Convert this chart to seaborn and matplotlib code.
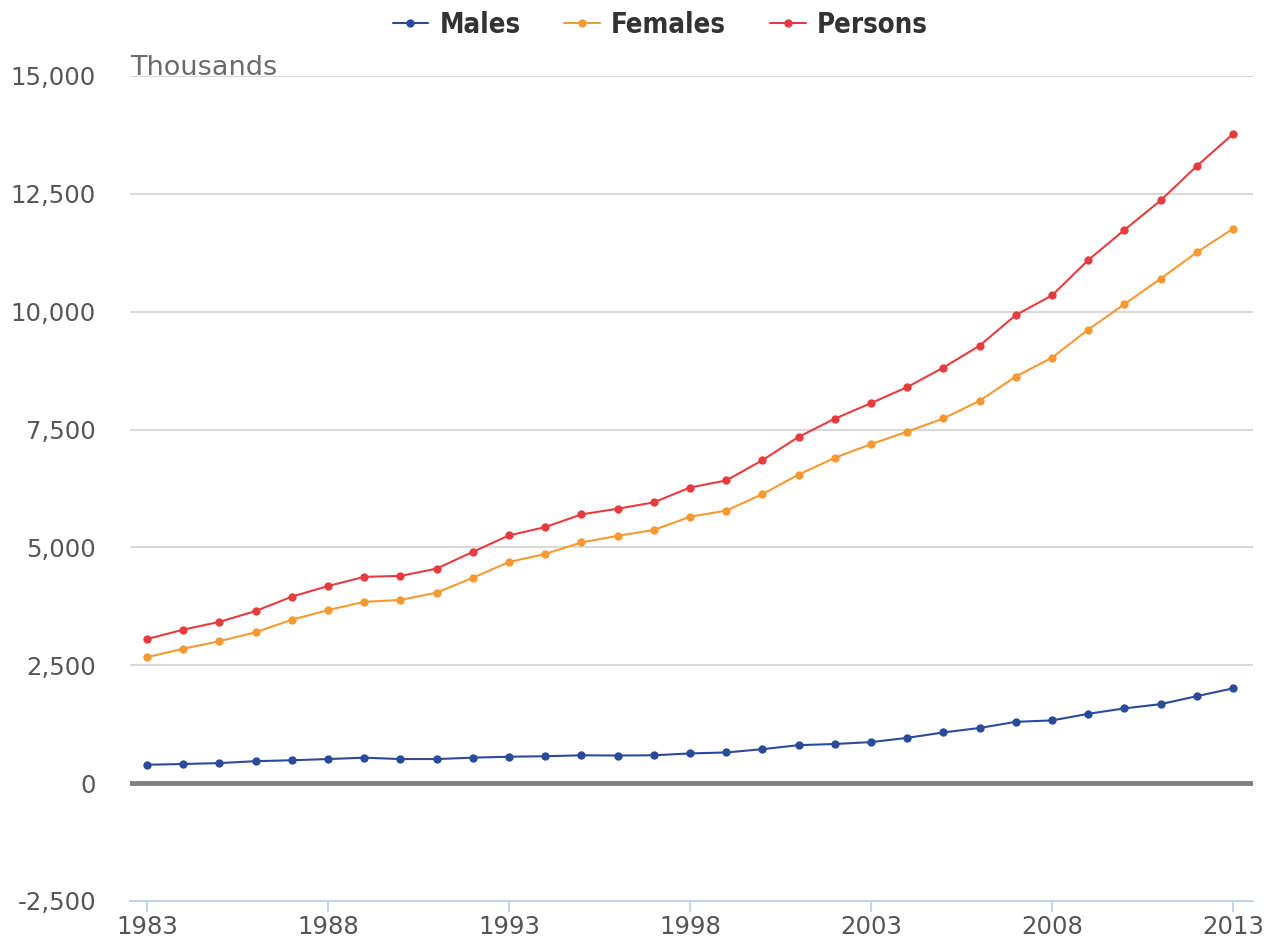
import pandas as pd
import matplotlib.pyplot as plt
import seaborn as sns
from matplotlib.ticker import FuncFormatter

# data (thousands)
years = list(range(1983, 2014))
males = [390, 405, 425, 465, 485, 510, 540, 510, 510, 540, 560, 570, 590, 585, 590,
         630, 650, 720, 805, 830, 870, 960, 1075, 1170, 1300, 1330, 1470, 1585, 1675, 1845, 2010]
females = [2670, 2850, 3010, 3200, 3465, 3670, 3845, 3885, 4040, 4355, 4690, 4860, 5105, 5245, 5370,
           5650, 5780, 6130, 6545, 6900, 7190, 7455, 7735, 8110, 8625, 9025, 9620, 10160, 10700, 11260, 11760]
persons = [3055, 3255, 3420, 3650, 3955, 4180, 4375, 4395, 4550, 4905, 5255, 5430, 5700, 5820, 5955,
           6270, 6420, 6850, 7345, 7730, 8060, 8400, 8815, 9280, 9930, 10345, 11095, 11735, 12360, 13090, 13770]
series_names = ["Males", "Females", "Persons"]
colors = ["#2a4a9a", "#f59a32", "#e53d3f"]

df = pd.DataFrame({"Year": years * 3,
                   "Value": males + females + persons,
                   "Series": sum([[n] * len(years) for n in series_names], [])})

sns.set_style("white")
plt.rcParams['font.family'] = ['DejaVu Sans']

fig = plt.figure(figsize=(12.77, 9.46), dpi=100)
ax = fig.add_axes([0.1018, 0.0476, 0.8794, 0.8721])

sns.lineplot(data=df, x="Year", y="Value", hue="Series", hue_order=series_names,
             palette=colors, marker="o", markersize=6, markeredgewidth=0,
             linewidth=1.5, ax=ax, legend=True, zorder=3)

ax.set_xlim(1982.53, 2013.55)
ax.set_ylim(-2500, 15000)
ax.set_yticks(range(-2500, 15001, 2500))
ax.set_xticks(range(1983, 2014, 5))
ax.yaxis.set_major_formatter(FuncFormatter(lambda v, p: f"{int(v):,}"))
ax.set_xlabel("")
ax.set_ylabel("")

# gridlines
for v in range(0, 15001, 2500):
    if v == 0:
        ax.axhline(0, color="#808080", lw=3.5, zorder=2)
    else:
        ax.axhline(v, color="#d9d9d9", lw=1.5, zorder=1)

for s in ["top", "right", "left"]:
    ax.spines[s].set_visible(False)
ax.spines["bottom"].set_color("#c5d5e6")
ax.spines["bottom"].set_linewidth(1.5)
ax.tick_params(axis="x", bottom=True, direction="out", colors="#c5d5e6", length=8, width=1.5,
               labelcolor="#555555", labelsize=17.6, pad=2)
ax.tick_params(axis="y", left=False, length=0, labelcolor="#555555", labelsize=17.6, pad=24.5)

ax.text(0.0, 15030, "Thousands", transform=ax.get_yaxis_transform(), ha="left", va="baseline",
        fontsize=19.5, color="#6b6b6b")

leg = ax.legend(loc="center", ncol=3, frameon=False,
                prop={"weight": "bold", "size": 19.8, "stretch": "condensed"},
                handlelength=1.3, columnspacing=1.6, handletextpad=0.4)
leg.set_bbox_to_anchor((0.517, 1 - 25 / 946), transform=fig.transFigure)
for t in leg.get_texts():
    t.set_color("#333333")

fig.savefig("out.png", dpi=100)
